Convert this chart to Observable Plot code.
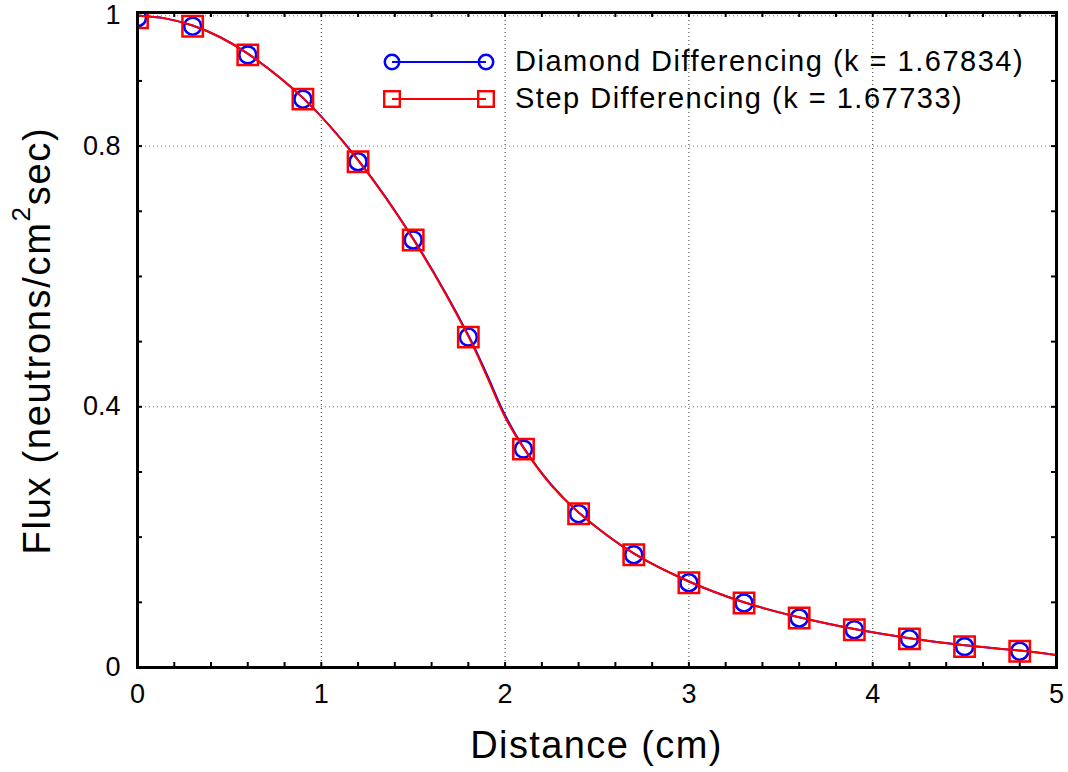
<!DOCTYPE html>
<html><head><meta charset="utf-8">
<script src="https://cdn.jsdelivr.net/npm/d3@7"></script>
<script src="https://cdn.jsdelivr.net/npm/@observablehq/plot@0.6"></script>
<style>
  html,body{margin:0;padding:0;background:#fff;}
  #chart{width:1068px;height:772px;}
</style>
</head><body><div id="chart"></div>
<script>
// ---- data ----
const markerX = [0, 0.3, 0.6, 0.9, 1.2, 1.5, 1.8, 2.1, 2.4, 2.7, 3.0, 3.3, 3.6, 3.9, 4.2, 4.5, 4.8];
const diamondFlux = [0.997, 0.984, 0.940, 0.872, 0.776, 0.656, 0.507, 0.335, 0.236, 0.173, 0.130, 0.099, 0.076, 0.058, 0.044, 0.032, 0.025];
const stepFlux    = [0.997, 0.984, 0.940, 0.872, 0.776, 0.656, 0.507, 0.335, 0.236, 0.173, 0.130, 0.099, 0.076, 0.058, 0.044, 0.032, 0.025];

const lineX       = [0, 0.15, 0.3, 0.45, 0.6, 0.9, 1.2, 1.5, 1.8, 1.9, 2.0, 2.1, 2.25, 2.4, 2.7, 3.0, 3.3, 3.6, 3.9, 4.2, 4.5, 4.8, 5.0];
const diamondLine = [1.0, 0.996, 0.985, 0.967, 0.942, 0.874, 0.779, 0.658, 0.510, 0.450, 0.387, 0.338, 0.281, 0.238, 0.175, 0.132, 0.100, 0.077, 0.059, 0.045, 0.034, 0.026, 0.019];
const stepLine    = [1.0, 0.996, 0.985, 0.967, 0.942, 0.874, 0.778, 0.657, 0.508, 0.447, 0.384, 0.337, 0.280, 0.238, 0.175, 0.132, 0.100, 0.077, 0.059, 0.045, 0.034, 0.026, 0.019];

const seriesNames = ["Diamond Differencing (k = 1.67834)", "Step Differencing (k = 1.67733)"];
const seriesColors = ["#0000ff", "#ff0000"];

const xTicks = [0, 1, 2, 3, 4, 5];
const yTicks = [0, 0.4, 0.8, 1];
const xGrid = [1, 2, 3, 4];
const yGrid = [0.4, 0.8, 1];
const xMinor = [0,0.2,0.4,0.6,0.8,1,1.2,1.4,1.6,1.8,2,2.2,2.4,2.6,2.8,3,3.2,3.4,3.6,3.8,4,4.2,4.4,4.6,4.8,5];
const yMinor = [0,0.1,0.2,0.3,0.4,0.5,0.6,0.7,0.8,0.9,1];
const xLabel = "Distance (cm)";
const yLabelParts = ["Flux (neutrons/cm", "2", "sec)"];

// ---- tables ----
const dMarkers = markerX.map((x, i) => ({x, y: diamondFlux[i]}));
const sMarkers = markerX.map((x, i) => ({x, y: stepFlux[i]}));
const dLine = lineX.map((x, i) => ({x, y: diamondLine[i]}));
const sLine = lineX.map((x, i) => ({x, y: stepLine[i]}));

const W = 1068, H = 772, mL = 137, mR = 12, mT = 12, mB = 105;
const innerH = H - mT - mB, innerW = W - mL - mR;
const tickLen = 5;
const FONT = "'Liberation Sans', Arial, sans-serif";

const plot = Plot.plot({
  width: W, height: H,
  marginLeft: mL, marginRight: mR, marginTop: mT, marginBottom: mB,
  style: {fontFamily: FONT, fontSize: "27px", color: "#000", background: "#fff", overflow: "visible"},
  x: {domain: [0, 5], axis: null},
  y: {domain: [0, 1.005], axis: null},
  marks: [
    Plot.gridX({ticks: xGrid, stroke: "#333", strokeOpacity: 1, strokeWidth: 1, strokeDasharray: "1,3"}),
    Plot.gridY({ticks: yGrid, stroke: "#777", strokeOpacity: 1, strokeWidth: 1, strokeDasharray: "1,3"}),
    // inward minor/major ticks on all four sides
    Plot.ruleX(xMinor, {x: d => d, insetTop: innerH - tickLen, stroke: "#000", strokeWidth: 2}),
    Plot.ruleX(xMinor, {x: d => d, insetBottom: innerH - tickLen, stroke: "#000", strokeWidth: 2}),
    Plot.ruleY(yMinor, {y: d => d, insetRight: innerW - tickLen, stroke: "#000", strokeWidth: 2}),
    Plot.ruleY(yMinor, {y: d => d, insetLeft: innerW - tickLen, stroke: "#000", strokeWidth: 2}),
    // series: diamond (blue) then step (red)
    Plot.line(dLine, {x: "x", y: "y", stroke: seriesColors[0], strokeWidth: 2, curve: "catmull-rom", clip: true}),
    Plot.dot(dMarkers, {x: "x", y: "y", r: 8.5, stroke: seriesColors[0], strokeWidth: 2.6, fill: "none", clip: true}),
    Plot.line(sLine, {x: "x", y: "y", stroke: seriesColors[1], strokeWidth: 2, curve: "catmull-rom", clip: true}),
    Plot.dot(sMarkers, {x: "x", y: "y", symbol: "square", r: 11.5, stroke: seriesColors[1], strokeWidth: 2.5, fill: "none", clip: true}),
    Plot.axisX({ticks: xTicks, tickSize: 0, tickPadding: 16, fontSize: 27, label: null, tickFormat: d => String(d)}),
    Plot.axisY({ticks: yTicks, tickSize: 0, tickPadding: 17, fontSize: 27, label: null, tickFormat: d => String(d)}),
    Plot.frame({stroke: "#000", strokeWidth: 3})
  ]
});
document.getElementById("chart").appendChild(plot);

const svg = d3.select(plot);

// x-axis title
svg.append("text")
  .attr("x", mL + innerW / 2).attr("y", 758)
  .attr("text-anchor", "middle").attr("font-size", 38)
  .attr("letter-spacing", 1.4).attr("fill", "#000").attr("font-family", FONT)
  .text(xLabel);

// y-axis title with superscript
const yt = svg.append("text")
  .attr("transform", `translate(50,${mT + innerH / 2 + 1}) rotate(-90)`)
  .attr("text-anchor", "middle")
  .attr("font-size", 38)
  .attr("letter-spacing", 1.7)
  .attr("fill", "#000")
  .attr("font-family", FONT);
yt.append("tspan").text(yLabelParts[0]);
yt.append("tspan").attr("font-size", 26).attr("dy", -20).text(yLabelParts[1]);
yt.append("tspan").attr("dy", 20).text(yLabelParts[2]);

// legend
const lg = svg.append("g").attr("font-family", FONT).attr("text-anchor", "start");
seriesNames.forEach((name, i) => {
  const cy = 62 + i * 37;
  const x1 = 392, x2 = 486;
  lg.append("line").attr("x1", x1).attr("x2", x2).attr("y1", cy).attr("y2", cy)
    .attr("stroke", seriesColors[i]).attr("stroke-width", 2.2);
  [x1, x2].forEach(x => {
    if (i === 0) {
      lg.append("circle").attr("cx", x).attr("cy", cy).attr("r", 7.2)
        .attr("fill", "none").attr("stroke", seriesColors[i]).attr("stroke-width", 2.5);
    } else {
      lg.append("rect").attr("x", x - 7.8).attr("y", cy - 7.8).attr("width", 15.6).attr("height", 15.6)
        .attr("fill", "none").attr("stroke", seriesColors[i]).attr("stroke-width", 2.4);
    }
  });
  lg.append("text").attr("x", 515).attr("y", cy + 9).attr("font-size", 29)
    .attr("letter-spacing", 1.5)
    .attr("text-anchor", "start").attr("fill", "#000").text(name);
});
</script>
</body></html>
